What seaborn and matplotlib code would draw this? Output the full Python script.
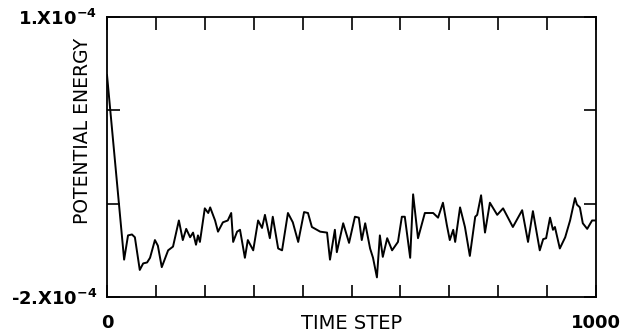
import matplotlib
matplotlib.use('Agg')
import matplotlib.pyplot as plt
import seaborn as sns
import pandas as pd

# Potential energy trace (units of 1e-4)
time_step = [0, 35, 43, 51, 57, 67, 74, 82, 88, 98, 104, 112, 125, 135, 147, 155, 162, 170,
             176, 182, 186, 190, 200, 207, 211, 221, 227, 237, 247, 254, 258, 266, 272, 282,
             288, 299, 309, 317, 323, 333, 339, 350, 358, 370, 380, 391, 403, 411, 419, 436,
             450, 456, 466, 470, 483, 495, 507, 515, 521, 528, 538, 544, 552, 558, 564, 573,
             583, 595, 603, 609, 620, 626, 636, 650, 667, 677, 687, 695, 701, 708, 712, 722,
             732, 742, 753, 757, 765, 773, 783, 798, 810, 820, 830, 849, 861, 871, 885, 892,
             898, 906, 912, 916, 926, 937, 947, 957, 961, 967, 973, 982, 992, 1000]
energy = [0.38, -1.60, -1.34, -1.33, -1.36, -1.71, -1.64, -1.63, -1.58, -1.39, -1.45, -1.68,
          -1.50, -1.46, -1.18, -1.39, -1.27, -1.36, -1.31, -1.44, -1.34, -1.41, -1.05, -1.10,
          -1.04, -1.18, -1.30, -1.20, -1.18, -1.10, -1.41, -1.30, -1.28, -1.58, -1.39, -1.50,
          -1.18, -1.26, -1.12, -1.37, -1.14, -1.48, -1.50, -1.10, -1.20, -1.41, -1.09, -1.10,
          -1.25, -1.30, -1.31, -1.60, -1.28, -1.52, -1.21, -1.42, -1.14, -1.15, -1.39, -1.21,
          -1.48, -1.58, -1.79, -1.34, -1.57, -1.37, -1.50, -1.41, -1.14, -1.14, -1.58, -0.90,
          -1.37, -1.10, -1.10, -1.15, -0.99, -1.23, -1.39, -1.28, -1.41, -1.04, -1.25, -1.56,
          -1.14, -1.12, -0.91, -1.31, -0.99, -1.12, -1.05, -1.15, -1.25, -1.07, -1.41, -1.08,
          -1.50, -1.38, -1.37, -1.15, -1.28, -1.25, -1.48, -1.36, -1.18, -0.94, -1.01, -1.04,
          -1.21, -1.27, -1.18, -1.18]

x_ticks = list(range(0, 1001, 100))
x_labels = ['0', '', '', '', '', 'TIME STEP', '', '', '', '', '1000']
y_ticks = [-2, -1, 0, 1]
y_labels = [r'-2.X10$^{\mathbf{-4}}$', '', '', r'1.X10$^{\mathbf{-4}}$']

sns.set_style('ticks')
plt.rcParams['font.family'] = ['DejaVu Sans']
plt.rcParams['text.color'] = 'black'

df = pd.DataFrame({'step': time_step, 'energy': energy})

fig = plt.figure(figsize=(6.23, 3.32), dpi=100)
ax = fig.add_axes([107 / 623, 35 / 332, 489 / 623, 280 / 332])
sns.lineplot(data=df, x='step', y='energy', color='black', linewidth=1.4, ax=ax)

ax.set_xlim(0, 1000)
ax.set_ylim(-2, 1)
ax.set_xticks(x_ticks)
ax.set_xticklabels(x_labels)
ax.set_yticks(y_ticks)
ax.set_yticklabels(y_labels)
ax.tick_params(direction='in', length=9, width=1.2, top=True, right=True,
               labelsize=12, colors='black')
ax.tick_params(axis='x', pad=12)
ax.tick_params(axis='y', pad=7, labelsize=13)
for lab in ax.get_yticklabels():
    lab.set_fontweight('bold')
for lab in ax.get_xticklabels():
    if lab.get_text() in ('0', '1000'):
        lab.set_fontweight('bold')
        lab.set_fontsize(13)
    elif lab.get_text() == 'TIME STEP':
        lab.set_fontsize(14)
for s in ax.spines.values():
    s.set_linewidth(1.3)
    s.set_color('black')
ax.set_xlabel('')
ax.set_ylabel('')

fig.text(82 / 623, 1 - 131 / 332, 'POTENTIAL ENERGY', rotation=90,
         ha='center', va='center', fontsize=13.5, color='black')

fig.savefig('out.png', dpi=100)
